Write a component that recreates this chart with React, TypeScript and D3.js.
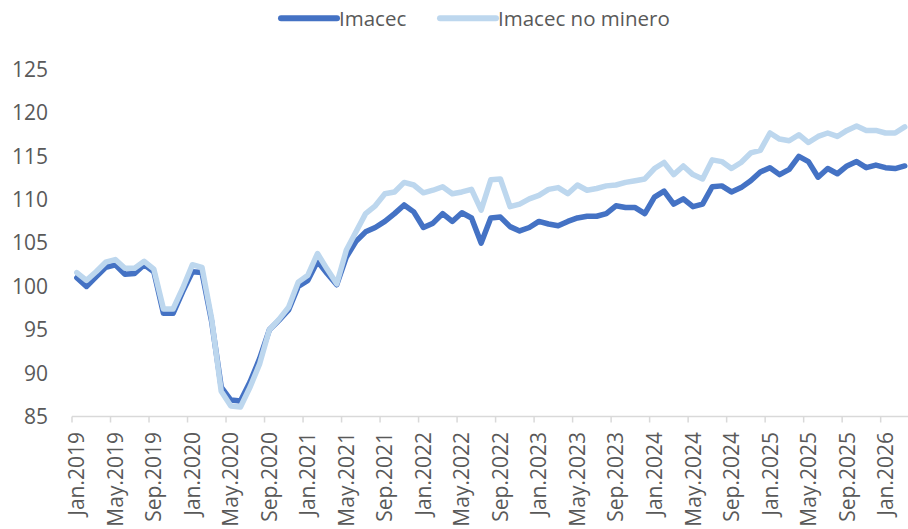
import React, { useEffect, useRef } from "react";
import * as d3 from "d3";

// monthly index, Jan.2019 .. Mar.2026
const startMonth = new Date(2019, 0, 1);
const monthCount = 87;

const imacec = [
  101.0, 100.0, 101.1, 102.2, 102.5, 101.4, 101.5, 102.5, 101.7, 96.9, 96.9, 99.4,
  101.7, 101.6, 96.0, 88.4, 86.9, 86.8, 89.0, 91.7, 95.0, 96.1, 97.3, 100.0,
  100.7, 102.9, 101.5, 100.2, 103.4, 105.2, 106.3, 106.8, 107.5, 108.4, 109.4, 108.6,
  106.8, 107.3, 108.4, 107.5, 108.5, 107.9, 105.0, 107.9, 108.0, 106.9, 106.4, 106.8,
  107.5, 107.2, 107.0, 107.5, 107.9, 108.1, 108.1, 108.4, 109.3, 109.1, 109.1, 108.4,
  110.3, 111.0, 109.5, 110.1, 109.2, 109.5, 111.5, 111.6, 110.9, 111.4, 112.2, 113.2,
  113.7, 112.9, 113.5, 115.0, 114.4, 112.6, 113.6, 113.0, 113.9, 114.4, 113.7, 114.0,
  113.7, 113.6, 113.9,
];

const imacecNoMinero = [
  101.6, 100.7, 101.7, 102.8, 103.1, 102.1, 102.1, 102.9, 102.0, 97.4, 97.4, 99.8,
  102.5, 102.2, 96.3, 87.9, 86.2, 86.1, 88.4, 91.1, 95.0, 96.2, 97.6, 100.5,
  101.3, 103.8, 102.0, 100.3, 104.2, 106.3, 108.4, 109.3, 110.7, 110.9, 112.0, 111.7,
  110.8, 111.1, 111.5, 110.7, 110.9, 111.2, 108.8, 112.3, 112.4, 109.2, 109.5, 110.1,
  110.5, 111.2, 111.4, 110.7, 111.7, 111.1, 111.3, 111.6, 111.7, 112.0, 112.2, 112.4,
  113.6, 114.3, 112.9, 113.9, 112.9, 112.4, 114.6, 114.4, 113.6, 114.3, 115.4, 115.7,
  117.7, 117.0, 116.8, 117.5, 116.6, 117.3, 117.7, 117.3, 118.0, 118.5, 118.0, 118.0,
  117.7, 117.7, 118.4,
];

const yTicks = [85, 90, 95, 100, 105, 110, 115, 120, 125];

const xTickLabels = [
  "Jan.2019", "May.2019", "Sep.2019", "Jan.2020", "May.2020", "Sep.2020",
  "Jan.2021", "May.2021", "Sep.2021", "Jan.2022", "May.2022", "Sep.2022",
  "Jan.2023", "May.2023", "Sep.2023", "Jan.2024", "May.2024", "Sep.2024",
  "Jan.2025", "May.2025", "Sep.2025", "Jan.2026",
];

const seriesNames = ["Imacec", "Imacec no minero"];
const seriesColors = ["#4472C4", "#BDD7EE"];

const App = () => {
  const ref = useRef<SVGSVGElement>(null);

  useEffect(() => {
    document.body.style.margin = "0";
    const width = 908;
    const height = 529;
    const font = "'Open Sans', sans-serif";
    const textColor = "#595959";

    const svg = d3.select(ref.current).attr("width", width).attr("height", height);
    svg.selectAll("*").remove();

    const months = d3.timeMonth.range(startMonth, d3.timeMonth.offset(startMonth, monthCount));
    const idx = months.map((_, i) => i);

    const x = d3.scaleBand<number>().domain(idx).range([72, 72 + monthCount * 9.627]);
    const y = d3.scaleLinear().domain([85, 125]).range([416.5, 69.7]);
    const cx = (i: number) => (x(i) as number) + x.bandwidth() / 2;

    // y labels
    svg.append("g")
      .selectAll("text")
      .data(yTicks)
      .enter()
      .append("text")
      .attr("x", 48)
      .attr("y", d => y(d))
      .attr("dy", "0.35em")
      .attr("text-anchor", "end")
      .style("font", `21px ${font}`)
      .attr("fill", textColor)
      .text(d => d);

    // x axis line + tick marks
    svg.append("line")
      .attr("x1", 72).attr("x2", width)
      .attr("y1", y(85)).attr("y2", y(85))
      .attr("stroke", "#D9D9D9").attr("stroke-width", 1.5);

    const tickIdx = xTickLabels.map((_, k) => k * 4);
    svg.append("g")
      .selectAll("line")
      .data(tickIdx)
      .enter()
      .append("line")
      .attr("x1", d => x(d) as number).attr("x2", d => x(d) as number)
      .attr("y1", y(85)).attr("y2", y(85) + 6)
      .attr("stroke", "#D9D9D9").attr("stroke-width", 1.5);

    svg.append("g")
      .selectAll("text")
      .data(xTickLabels)
      .enter()
      .append("text")
      .attr("transform", (_, k) => `translate(${cx(k * 4)},${432}) rotate(-90)`)
      .attr("dy", "0.36em")
      .attr("text-anchor", "end")
      .style("font", `21px ${font}`)
      .attr("fill", textColor)
      .text(d => d);

    // lines, light one drawn on top
    const line = d3.line<number>()
      .x((_, i) => cx(i))
      .y(d => y(d));

    [imacec, imacecNoMinero].forEach((vals, s) => {
      svg.append("path")
        .datum(vals)
        .attr("d", line)
        .attr("fill", "none")
        .attr("stroke", seriesColors[s])
        .attr("stroke-width", 5.5)
        .attr("stroke-linejoin", "round")
        .attr("stroke-linecap", "round");
    });

    // legend
    const legendX = [281, 440];
    const lg = svg.append("g");
    legendX.forEach((lx, s) => {
      lg.append("line")
        .attr("x1", lx).attr("x2", lx + 56)
        .attr("y1", 18.3).attr("y2", 18.3)
        .attr("stroke", seriesColors[s]).attr("stroke-width", 6)
        .attr("stroke-linecap", "round");
      lg.append("text")
        .attr("x", lx + 58)
        .attr("y", 26)
        .style("font", `20.5px ${font}`)
        .attr("fill", textColor)
        .text(seriesNames[s]);
    });
  }, []);

  return <svg ref={ref} style={{ position: "absolute", left: 0, top: 0 }}></svg>;
};

export default App;
